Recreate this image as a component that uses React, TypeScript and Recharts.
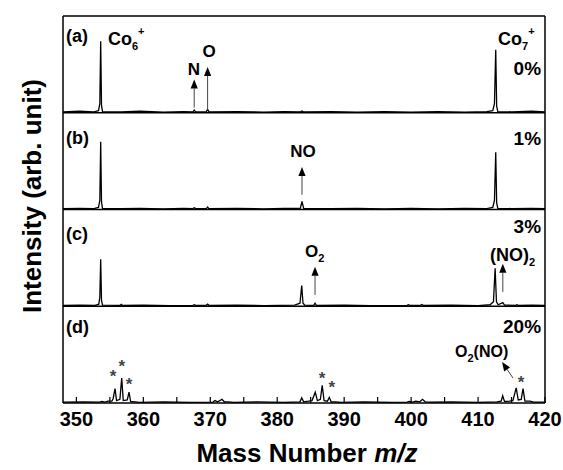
import React from "react";
import { LineChart, Line, XAxis, YAxis, ReferenceLine, ReferenceDot } from "recharts";

const FONT = "'Liberation Sans', Arial, sans-serif";

const MZ_TICKS = [350, 355, 360, 365, 370, 375, 380, 385, 390, 395, 400, 405, 410, 415, 420];
const INTENSITY_TICKS = [1, 2, 3, 4, 5, 6, 7, 8, 9, 10, 11, 12];
const PANEL_HEIGHT = 3.2125;
const PANEL_LABELS = ["(a)", "(b)", "(c)", "(d)"];
const CONCENTRATIONS = ["0%", "1%", "3%", "20%"];

// [m/z, intensity], relative to its own panel baseline
const SPECTRUM_A: [number, number][] = [
  [348, 0.03], [350.5, 0.05], [352.6, 0.03], [353.3, 0.07], [353.5, 0.3], [353.63, 2.37], [353.75, 0.25],
  [353.9, 0.04], [356.7, 0.03], [359.5, 0.05], [363, 0.02], [366, 0.04], [367.4, 0.03], [367.6, 0.09],
  [367.8, 0.03], [369.4, 0.03], [369.6, 0.11], [369.8, 0.03], [374, 0.04], [378, 0.02], [381, 0.04],
  [383.5, 0.03], [383.7, 0.06], [383.9, 0.03], [388, 0.04], [392, 0.02], [396, 0.04], [400, 0.02],
  [404, 0.04], [408, 0.02], [411.3, 0.04], [412.2, 0.07], [412.45, 0.3], [412.64, 2.09], [412.78, 0.22],
  [412.95, 0.04], [415, 0.03], [418, 0.05], [420, 0.03],
];
const SPECTRUM_B: [number, number][] = [
  [348, 0.03], [350.5, 0.04], [352.6, 0.03], [353.3, 0.07], [353.5, 0.3], [353.63, 2.25], [353.75, 0.25],
  [353.9, 0.04], [356.7, 0.03], [359.5, 0.04], [363, 0.02], [366, 0.04], [367.4, 0.03], [367.6, 0.06],
  [367.8, 0.03], [369.4, 0.03], [369.6, 0.08], [369.8, 0.03], [374, 0.04], [378, 0.02], [381, 0.04],
  [383.45, 0.04], [383.7, 0.27], [383.95, 0.04], [388, 0.03], [392, 0.04], [396, 0.02], [400, 0.04],
  [404, 0.02], [408, 0.04], [411.3, 0.03], [412.2, 0.07], [412.45, 0.3], [412.64, 1.9], [412.78, 0.22],
  [412.95, 0.04], [415, 0.03], [418, 0.04], [420, 0.03],
];
const SPECTRUM_C: [number, number][] = [
  [348, 0.03], [350.5, 0.04], [352.8, 0.03], [353.35, 0.07], [353.5, 0.3], [353.63, 1.56], [353.75, 0.2],
  [353.9, 0.04], [356.55, 0.03], [356.7, 0.06], [356.85, 0.03], [360, 0.04], [364, 0.02], [367.4, 0.03],
  [367.6, 0.05], [367.8, 0.03], [369.4, 0.03], [369.6, 0.07], [369.8, 0.03], [374, 0.04], [378, 0.02],
  [382.6, 0.04], [383.4, 0.1], [383.66, 0.69], [383.85, 0.1], [384.1, 0.04], [385.45, 0.03],
  [385.65, 0.1], [385.85, 0.03], [390, 0.04], [394, 0.02], [399.4, 0.03], [399.6, 0.05], [399.8, 0.03],
  [401.4, 0.03], [401.6, 0.06], [401.8, 0.03], [406, 0.04], [410, 0.02], [411.8, 0.05], [412.3, 0.15],
  [412.55, 1.26], [412.75, 0.15], [413.0, 0.05], [413.7, 0.12], [413.95, 0.04], [415.6, 0.03],
  [415.8, 0.05], [416.0, 0.03], [418, 0.04], [420, 0.03],
];
const SPECTRUM_D: [number, number][] = [
  [348, 0.03], [351, 0.04], [353.5, 0.03], [353.8, 0.05], [354.3, 0.03], [354.7, 0.06], [355.3, 0.06],
  [355.5, 0.15], [355.77, 0.48], [356.0, 0.08], [356.5, 0.12], [356.77, 0.83], [357.0, 0.08], [357.6, 0.1],
  [357.86, 0.36], [358.1, 0.05], [358.8, 0.04], [359.4, 0.02], [363, 0.04], [367, 0.02], [370.4, 0.03],
  [370.7, 0.08], [371.1, 0.04], [371.75, 0.12], [372.1, 0.04], [372.7, 0.04], [373.5, 0.02], [377, 0.04],
  [381, 0.02], [383.4, 0.04], [383.66, 0.17], [383.95, 0.04], [384.65, 0.06], [385.2, 0.08],
  [385.68, 0.36], [386.0, 0.08], [386.45, 0.12], [386.72, 0.59], [387.0, 0.08], [387.5, 0.06],
  [387.78, 0.19], [388.05, 0.04], [388.7, 0.04], [389.5, 0.02], [393, 0.04], [397, 0.02], [399.4, 0.03],
  [399.7, 0.05], [400.2, 0.03], [400.7, 0.06], [401.3, 0.04], [401.7, 0.12], [402.1, 0.04], [402.7, 0.03],
  [406, 0.04], [410, 0.02], [412.8, 0.04], [413.45, 0.06], [413.68, 0.24], [413.95, 0.05], [414.7, 0.06],
  [415.2, 0.08], [415.7, 0.5], [416.0, 0.1], [416.45, 0.12], [416.72, 0.48], [417.0, 0.06], [417.75, 0.06],
  [418.3, 0.03], [420, 0.03],
];

const SPECTRA = [SPECTRUM_A, SPECTRUM_B, SPECTRUM_C, SPECTRUM_D];

// text annotations [m/z, y (chart units), text]
const PEAK_NOTES: { x: number; y: number; text: string; anchor: string }[] = [
  { x: 367.57, y: 10.89, text: "N", anchor: "middle" },
  { x: 369.81, y: 11.49, text: "O", anchor: "middle" },
  { x: 383.85, y: 8.17, text: "NO", anchor: "middle" },
];
const ARROWS: { from: [number, number]; to: [number, number] }[] = [
  { from: [367.6, 9.81], to: [367.6, 10.74] },
  { from: [369.6, 9.73], to: [369.6, 11.16] },
  { from: [383.7, 6.91], to: [383.7, 7.84] },
  { from: [385.65, 3.59], to: [385.65, 4.52] },
  { from: [413.7, 3.69], to: [413.7, 4.62] },
  { from: [415.22, 0.83], to: [413.58, 1.36] },
];
const STAR_POSITIONS: [number, number][] = [
  [355.47, 1.0], [356.77, 1.33], [357.86, 0.73], [386.69, 0.93], [388.14, 0.63], [416.42, 0.8],
];

const traces = SPECTRA.map((s, i) => s.map(([mz, v]) => ({ mz, v: v + (3 - i) * PANEL_HEIGHT })));

const textStyle = { fontFamily: FONT, fontWeight: 700, fill: "#000" } as const;

const arrowShape = (p: any) => {
  const { x1, y1, x2, y2 } = p;
  const dx = x2 - x1;
  const dy = y2 - y1;
  const len = Math.hypot(dx, dy) || 1;
  const ux = dx / len;
  const uy = dy / len;
  const hl = 9;
  const hw = 3.6;
  const bx = x2 - ux * hl;
  const by = y2 - uy * hl;
  return (
    <g>
      <line x1={x1} y1={y1} x2={bx} y2={by} stroke="#444" strokeWidth={1} />
      <polygon
        points={`${x2},${y2} ${bx - uy * hw},${by + ux * hw} ${bx + uy * hw},${by - ux * hw}`}
        fill="#000"
      />
    </g>
  );
};

const textShape = (content: React.ReactNode, anchor: string, size: number, color = "#000") => (p: any) => (
  <text x={p.cx} y={p.cy} textAnchor={anchor} fontSize={size} style={{ ...textStyle, fill: color }}>
    {content}
  </text>
);

const ion = (n: string) => (
  <>
    Co
    <tspan fontSize={11} dy={5}>{n}</tspan>
    <tspan fontSize={11} dy={-15}>+</tspan>
  </>
);

const frame = { stroke: "#000", strokeWidth: 1.5 };
const tickStroke = { stroke: "#000", strokeWidth: 1.2 };

export default function App() {
  const baselines = [9.6375, 6.425, 3.2125];
  const labelY = [11.99, 8.6, 5.41, 2.32];
  const pctY = [10.89, 8.57, 5.64, 2.32];
  return (
    <div style={{ position: "absolute", left: 0, top: 0, background: "#fff" }}>
      <LineChart width={563} height={470} margin={{ top: 15, right: 17, bottom: 66, left: 62 }}>
        <XAxis
          dataKey="mz"
          type="number"
          domain={[348, 420]}
          ticks={MZ_TICKS}
          interval={0}
          allowDataOverflow
          height={1}
          tickSize={-6}
          tickMargin={15}
          axisLine={frame}
          tickLine={tickStroke}
          tick={{ fontSize: 20, fontWeight: 700, fontFamily: FONT, fill: "#000" }}
          tickFormatter={(v: number) => (v % 10 === 0 ? String(v) : "")}
          label={{
            content: () => (
              <text x={307} y={462} textAnchor="middle" fontSize={26} style={textStyle}>
                Mass Number <tspan fontStyle="italic">m/z</tspan>
              </text>
            ),
          }}
        />
        <XAxis
          xAxisId="top"
          orientation="top"
          dataKey="mz"
          type="number"
          domain={[348, 420]}
          ticks={MZ_TICKS}
          interval={0}
          allowDataOverflow
          height={1}
          tickSize={-5}
          tick={false}
          axisLine={frame}
          tickLine={tickStroke}
        />
        <YAxis
          type="number"
          domain={[0, 12.85]}
          ticks={INTENSITY_TICKS}
          interval={0}
          allowDataOverflow
          width={1}
          tickSize={-5}
          tick={false}
          axisLine={frame}
          tickLine={tickStroke}
          label={{
            content: () => (
              <text
                x={32}
                y={196}
                transform="rotate(-90, 32, 196)"
                textAnchor="middle"
                dominantBaseline="central"
                fontSize={26}
                style={textStyle}
              >
                Intensity (arb. unit)
              </text>
            ),
          }}
        />
        <YAxis
          yAxisId="r"
          orientation="right"
          type="number"
          domain={[0, 12.85]}
          ticks={INTENSITY_TICKS}
          interval={0}
          allowDataOverflow
          width={1}
          tickSize={-5}
          tick={false}
          axisLine={frame}
          tickLine={tickStroke}
        />
        {baselines.map((b) => (
          <ReferenceLine key={b} y={b} stroke="#000" strokeWidth={1.3} />
        ))}
        {traces.map((t, i) => (
          <Line
            key={i}
            data={t}
            dataKey="v"
            type="linear"
            stroke="#000"
            strokeWidth={1.3}
            dot={false}
            isAnimationActive={false}
          />
        ))}
        {PANEL_LABELS.map((l, i) => (
          <ReferenceDot key={l} x={348.45} y={labelY[i]} r={1} ifOverflow="visible" shape={textShape(l, "start", 18)} />
        ))}
        {CONCENTRATIONS.map((c, i) => (
          <ReferenceDot key={c} x={419.41} y={pctY[i]} r={1} ifOverflow="visible" shape={textShape(c, "end", 19)} />
        ))}
        <ReferenceDot x={354.72} y={11.89} r={1} ifOverflow="visible" shape={textShape(ion("6"), "start", 18)} />
        <ReferenceDot x={412.98} y={11.89} r={1} ifOverflow="visible" shape={textShape(ion("7"), "start", 18)} />
        {PEAK_NOTES.map((n) => (
          <ReferenceDot key={n.text} x={n.x} y={n.y} r={1} ifOverflow="visible" shape={textShape(n.text, n.anchor, 17)} />
        ))}
        <ReferenceDot
          x={384.15}
          y={4.85}
          r={1}
          ifOverflow="visible"
          shape={textShape(<>O<tspan fontSize={11} dy={5}>2</tspan></>, "start", 17)}
        />
        <ReferenceDot
          x={411.79}
          y={4.72}
          r={1}
          ifOverflow="visible"
          shape={textShape(<>(NO)<tspan fontSize={11} dy={5}>2</tspan></>, "start", 18)}
        />
        <ReferenceDot
          x={406.56}
          y={1.53}
          r={1}
          ifOverflow="visible"
          shape={textShape(<>O<tspan fontSize={11} dy={5}>2</tspan><tspan dy={-5}>(NO)</tspan></>, "start", 16)}
        />
        {ARROWS.map((a, i) => (
          <ReferenceLine
            key={i}
            segment={[{ x: a.from[0], y: a.from[1] }, { x: a.to[0], y: a.to[1] }]}
            ifOverflow="visible"
            shape={arrowShape}
          />
        ))}
        {STAR_POSITIONS.map(([x, y], i) => (
          <ReferenceDot
            key={i}
            x={x}
            y={y}
            r={1}
            ifOverflow="visible"
            shape={(p: any) => (
              <text x={p.cx} y={p.cy + 9} textAnchor="middle" fontSize={17} style={{ ...textStyle, fill: "#444" }}>
                *
              </text>
            )}
          />
        ))}
      </LineChart>
    </div>
  );
}
